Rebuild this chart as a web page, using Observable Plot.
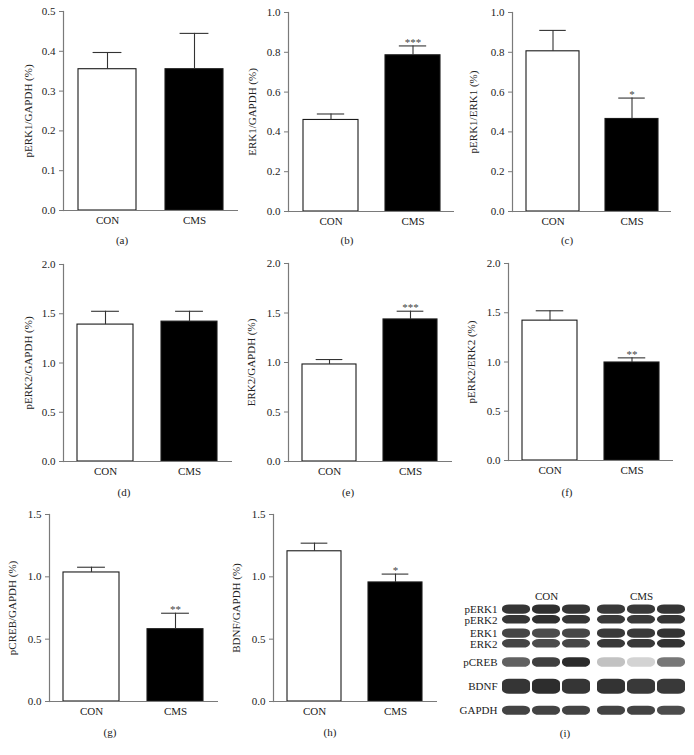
<!DOCTYPE html>
<html><head><meta charset="utf-8">
<script src="https://cdn.jsdelivr.net/npm/d3@7"></script>
<script src="https://cdn.jsdelivr.net/npm/@observablehq/plot@0.6"></script>
<style>
html,body{margin:0;padding:0;background:#fff;}
#fig{position:relative;width:694px;height:755px;overflow:hidden;background:#fff;font-family:"Liberation Serif","Times New Roman",serif;color:#222;}
.panel{position:absolute;}
.panel svg{background:transparent !important;}
.cap{position:absolute;font-size:11px;transform:translate(-50%,-50%);white-space:nowrap;}
</style></head><body><div id="fig"></div>
<script>
// ---- data ----
const groups = ["CON", "CMS"];
const panelIds = ["a", "b", "c", "d", "e", "f", "g", "h"];
const yLabels = ["pERK1/GAPDH (%)", "ERK1/GAPDH (%)", "pERK1/ERK1 (%)", "pERK2/GAPDH (%)", "ERK2/GAPDH (%)", "pERK2/ERK2 (%)", "pCREB/GAPDH (%)", "BDNF/GAPDH (%)"];
const conMeans = [0.355, 0.46, 0.805, 1.39, 0.98, 1.42, 1.035, 1.205];
const cmsMeans = [0.355, 0.785, 0.465, 1.42, 1.435, 0.995, 0.58, 0.955];
const conUpper = [0.397, 0.49, 0.91, 1.525, 1.03, 1.52, 1.077, 1.27];
const cmsUpper = [0.445, 0.832, 0.57, 1.525, 1.518, 1.042, 0.708, 1.022];
const conStars = ["", "", "", "", "", "", "", ""];
const cmsStars = ["", "***", "*", "", "***", "**", "**", "*"];
const yMaxes = [0.5, 1.0, 1.0, 2.0, 2.0, 2.0, 1.5, 1.5];
const yTickSteps = [0.1, 0.2, 0.2, 0.5, 0.5, 0.5, 0.5, 0.5];

const blotGroups = ["CON", "CMS"];
const blotRows = ["pERK1\npERK2", "ERK1\nERK2", "pCREB", "BDNF", "GAPDH"];
const blotLanes = [1, 2, 3];
const conIntensity = [[0.92, 0.95, 0.92], [0.85, 0.82, 0.84], [0.72, 0.88, 0.97], [0.92, 0.96, 0.92], [0.86, 0.86, 0.86]];
const cmsIntensity = [[0.9, 0.9, 0.92], [0.9, 0.9, 0.93], [0.28, 0.2, 0.62], [0.93, 0.9, 0.9], [0.86, 0.86, 0.82]];

// ---- layout (positions only) ----
const layout = [
  {left: 0,   top: 0,   width: 240, height: 235, ml: 63, mr: 2,  mt: 11, dist: 34, cx: 122, cy: 240},
  {left: 230, top: 0,   width: 230, height: 236, ml: 58, mr: 6,  mt: 12, dist: 35, cx: 347, cy: 240},
  {left: 460, top: 0,   width: 234, height: 236, ml: 52, mr: 23, mt: 12, dist: 38, cx: 567, cy: 240},
  {left: 0,   top: 250, width: 240, height: 236, ml: 63, mr: 8,  mt: 14, dist: 34, cx: 124, cy: 492},
  {left: 230, top: 250, width: 230, height: 236, ml: 58, mr: 8,  mt: 13, dist: 36, cx: 348, cy: 492},
  {left: 460, top: 250, width: 234, height: 235, ml: 48, mr: 21, mt: 13, dist: 36, cx: 567, cy: 492},
  {left: 0,   top: 500, width: 230, height: 226, ml: 49, mr: 12, mt: 14, dist: 36, cx: 110, cy: 732},
  {left: 230, top: 500, width: 220, height: 226, ml: 43, mr: 13, mt: 14, dist: 36, cx: 330, cy: 732}
];

const fig = document.getElementById("fig");
const font = {fontFamily: "'Liberation Serif','Times New Roman',serif", fontSize: "11px", color: "#222", background: "transparent", overflow: "visible"};

function place(node, left, top) {
  const wrap = document.createElement("div");
  wrap.className = "panel";
  wrap.style.left = left + "px";
  wrap.style.top = top + "px";
  wrap.appendChild(node);
  fig.appendChild(wrap);
}
function caption(text, x, y) {
  const c = document.createElement("div");
  c.className = "cap";
  c.style.left = x + "px";
  c.style.top = y + "px";
  c.textContent = text;
  fig.appendChild(c);
}

panelIds.forEach((id, i) => {
  const L = layout[i];
  const rows = [
    {group: "CON", value: conMeans[i], upper: conUpper[i], star: conStars[i]},
    {group: "CMS", value: cmsMeans[i], upper: cmsUpper[i], star: cmsStars[i]}
  ];
  const ticks = d3.range(0, yMaxes[i] + 1e-9, yTickSteps[i]);
  const bw = (L.width - L.ml - L.mr) / 3; // approximate bandwidth for cap inset
  const chart = Plot.plot({
    width: L.width, height: L.height,
    marginLeft: L.ml, marginRight: L.mr, marginTop: L.mt, marginBottom: 25,
    style: font,
    x: {domain: groups, paddingInner: 0.33, paddingOuter: 0.17},
    y: {domain: [0, yMaxes[i]]},
    color: {domain: groups, range: ["#ffffff", "#000000"]},
    marks: [
      Plot.barY(rows, {x: "group", y: "value", fill: "group", stroke: "#1a1a1a", strokeWidth: 1.1}),
      Plot.ruleX(rows, {x: "group", y1: "value", y2: "upper", stroke: "#333", strokeWidth: 1.1}),
      Plot.tickY(rows, {x: "group", y: "upper", stroke: "#333", strokeWidth: 1.1, insetLeft: bw * 0.25, insetRight: bw * 0.25}),
      Plot.text(rows.filter(d => d.star), {x: "group", y: "upper", text: "star", dy: 0, lineAnchor: "bottom", fill: "#444", fontSize: 11}),
      Plot.frame({anchor: "left", stroke: "#7a7a7a", strokeWidth: 1.2}),
      Plot.ruleY([0], {stroke: "#7a7a7a", strokeWidth: 1.2}),
      Plot.axisY({ticks, tickFormat: d3.format(".1f"), tickSize: 4, tickPadding: 4, stroke: "#7a7a7a", fill: "#222",
        label: yLabels[i], labelAnchor: "center", labelArrow: "none", labelOffset: L.dist + 5}),
      Plot.axisX({tickSize: 0, tickPadding: 6, label: null, fill: "#222"})
    ]
  });
  place(chart, L.left, L.top);
  caption("(" + id + ")", L.cx, L.cy);
});

// ---- blot panel (i) ----
const bandShape = {
  "pERK1\npERK2": [[0.51, 0.9], [0.1, 0.46]],
  "ERK1\nERK2": [[0.51, 0.9], [0.1, 0.46]],
  "pCREB": [[0.3, 0.7]],
  "BDNF": [[0.18, 0.8]],
  "GAPDH": [[0.3, 0.68]]
};
const bands = [];
blotRows.forEach((row, r) => {
  blotGroups.forEach(g => {
    const inten = g === "CON" ? conIntensity[r] : cmsIntensity[r];
    blotLanes.forEach((lane, li) => {
      bandShape[row].forEach((_, s) => bands.push({row, group: g, lane, sub: s, intensity: inten[li]}));
    });
  });
});

const blot = Plot.plot({
  width: 254, height: 145,
  marginLeft: 59, marginRight: 7, marginTop: 23, marginBottom: 1,
  style: font,
  fx: {domain: blotGroups, paddingInner: 0.035, paddingOuter: 0, label: null},
  fy: {domain: blotRows, padding: 0, axis: null},
  x: {domain: blotLanes, padding: 0.06, axis: null},
  y: {domain: [0, 1], axis: null},
  marks: [
    Plot.barY(bands, {
      fx: "group", fy: "row", x: "lane",
      y1: d => bandShape[d.row][d.sub][0], y2: d => bandShape[d.row][d.sub][1],
      fill: "#242424", fillOpacity: "intensity", rx: 7, ry: 4
    }),
    Plot.text(blotRows, {fy: d => d, fx: () => "CON", text: d => d, frameAnchor: "left", textAnchor: "end", dx: -3, lineHeight: 1.0, fill: "#222"}),
    Plot.axisFx({anchor: "top", tickSize: 0, tickPadding: 3, label: null, fill: "#222"})
  ]
});
place(blot, 440, 578);
caption("(i)", 565, 733);
</script>
</body></html>
